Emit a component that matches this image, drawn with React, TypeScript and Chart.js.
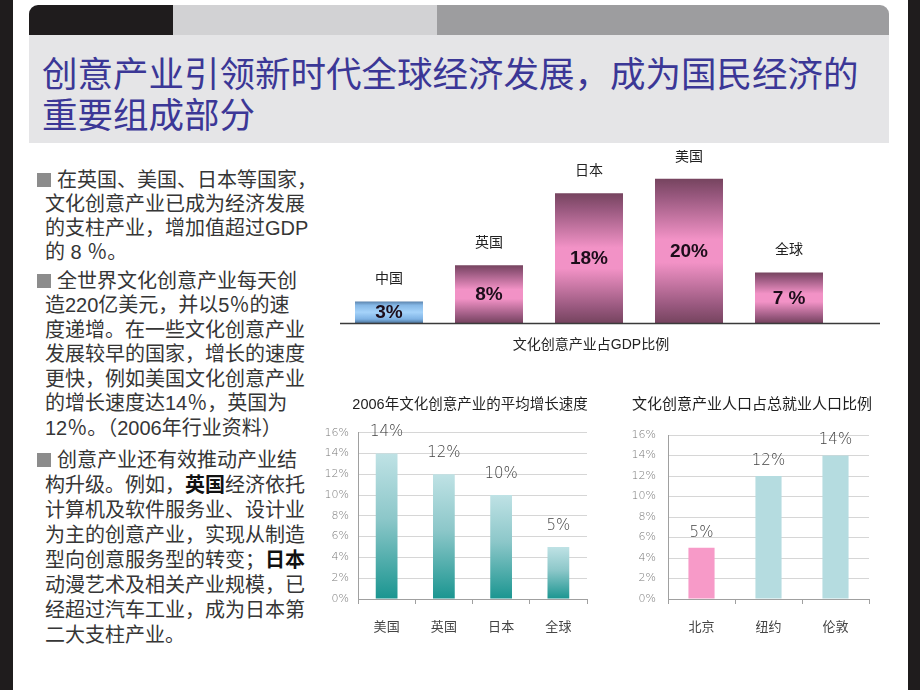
import React, { useEffect, useRef } from "react";
import { Chart, registerables } from "chart.js";
Chart.register(...registerables);

// ---------- data ----------
const gdpCategories = ["中国", "英国", "日本", "美国", "全球"];
const gdpValues = [3, 8, 18, 20, 7];
const gdpValueLabels = ["3%", "8%", "18%", "20%", "7 %"];
const gdpAxisTitle = "文化创意产业占GDP比例";

const growthCategories = ["美国", "英国", "日本", "全球"];
const growthValues = [14, 12, 10, 5];
const growthTitle = "2006年文化创意产业的平均增长速度";

const employCategories = ["北京", "纽约", "伦敦"];
const employValues = [5, 12, 14];
const employColors = ["#f79ac8", "#b5dce0", "#b5dce0"];
const employTitle = "文化创意产业人口占总就业人口比例";

const pctMin = 0;
const pctMax = 16;
const pctStep = 2;

const slideTitleLines = ["创意产业引领新时代全球经济发展，成为国民经济的", "重要组成部分"];

type Seg = { t: string; b?: boolean };
const para1: Seg[][] = [
  [{ t: "在英国、美国、日本等国家，" }],
  [{ t: "文化创意产业已成为经济发展" }],
  [{ t: "的支柱产业，增加值超过GDP" }],
  [{ t: "的 8 ％。" }],
];
const para2: Seg[][] = [
  [{ t: "全世界文化创意产业每天创" }],
  [{ t: "造220亿美元，并以5％的速" }],
  [{ t: "度递增。在一些文化创意产业" }],
  [{ t: "发展较早的国家，增长的速度" }],
  [{ t: "更快，例如美国文化创意产业" }],
  [{ t: "的增长速度达14％，英国为" }],
  [{ t: "12％。（2006年行业资料）" }],
];
const para3: Seg[][] = [
  [{ t: "创意产业还有效推动产业结" }],
  [{ t: "构升级。例如，" }, { t: "英国", b: true }, { t: "经济依托" }],
  [{ t: "计算机及软件服务业、设计业" }],
  [{ t: "为主的创意产业，实现从制造" }],
  [{ t: "型向创意服务型的转变；" }, { t: "日本", b: true }],
  [{ t: "动漫艺术及相关产业规模，已" }],
  [{ t: "经超过汽车工业，成为日本第" }],
  [{ t: "二大支柱产业。" }],
];

const CJK = '"Liberation Sans", "Noto Sans CJK SC", sans-serif';
const THIN = '"DejaVu Sans", "Noto Sans CJK SC", sans-serif';

// ---------- chart configs ----------
function gdpConfig(): any {
  const labelPlugin = {
    id: "gdpLabels",
    afterDatasetsDraw(chart: any) {
      const { ctx, chartArea } = chart;
      const meta = chart.getDatasetMeta(0);
      ctx.save();
      ctx.textAlign = "center";
      ctx.textBaseline = "middle";
      meta.data.forEach((bar: any, i: number) => {
        const { x, y, base } = bar.getProps(["x", "y", "base"], true);
        ctx.font = `14px ${CJK}`;
        ctx.fillStyle = "#222";
        ctx.fillText(gdpCategories[i], x, y - 22);
        ctx.font = 'bold 19px "Liberation Sans", Arial, sans-serif';
        ctx.fillStyle = "#1c0d1a";
        ctx.fillText(gdpValueLabels[i], x, (y + base) / 2 + 1);
      });
      ctx.strokeStyle = "#3a3a3a";
      ctx.lineWidth = 1.5;
      ctx.beginPath();
      ctx.moveTo(chartArea.left + 1, chartArea.bottom + 0.5);
      ctx.lineTo(chartArea.right + 41, chartArea.bottom + 0.5);
      ctx.stroke();
      ctx.font = `14px ${CJK}`;
      ctx.fillStyle = "#222";
      ctx.fillText(gdpAxisTitle, chartArea.left + 252, chartArea.bottom + 22);
      ctx.restore();
    },
  };
  return {
    type: "bar",
    data: {
      labels: gdpCategories,
      datasets: [
        {
          data: gdpValues,
          barPercentage: 0.68,
          categoryPercentage: 1,
          backgroundColor: (c: any) => {
            const chart = c.chart;
            if (!chart.chartArea || c.type !== "data") return "#e890c0";
            const ys = chart.scales.y;
            const top = ys.getPixelForValue(c.raw);
            const bottom = ys.getPixelForValue(0);
            const g = chart.ctx.createLinearGradient(0, top, 0, bottom);
            if (c.dataIndex === 0) {
              g.addColorStop(0, "#5a82ab");
              g.addColorStop(0.18, "#86b8e6");
              g.addColorStop(0.5, "#a5d3fa");
              g.addColorStop(0.82, "#7eb2e4");
              g.addColorStop(1, "#4d759c");
            } else {
              g.addColorStop(0, "#76445f");
              g.addColorStop(0.12, "#98587e");
              g.addColorStop(0.42, "#f292c6");
              g.addColorStop(0.58, "#f292c6");
              g.addColorStop(0.88, "#98587e");
              g.addColorStop(1, "#76445f");
            }
            return g;
          },
        },
      ],
    },
    options: {
      responsive: false,
      animation: false,
      layout: { padding: { left: 4, right: 51, top: 0, bottom: 37 } },
      plugins: { legend: { display: false }, tooltip: { enabled: false } },
      scales: {
        x: { display: false },
        y: { display: false, min: 0, max: 24 },
      },
    },
    plugins: [labelPlugin],
  };
}

function smallConfig(opts: {
  categories: string[];
  values: number[];
  colors: any;
  title: string;
  titleX: number;
  titleSize: number;
  padTop: number;
  padRight: number;
  yWidth: number;
  yPad: number;
  barPct: number;
  labelGap: number;
}): any {
  const plugin = {
    id: "smallLabels",
    afterDatasetsDraw(chart: any) {
      const { ctx } = chart;
      const meta = chart.getDatasetMeta(0);
      ctx.save();
      ctx.textAlign = "center";
      ctx.textBaseline = "middle";
      ctx.font = `200 15px ${THIN}`;
      ctx.fillStyle = "#444";
      meta.data.forEach((bar: any, i: number) => {
        const { x, y } = bar.getProps(["x", "y"], true);
        ctx.fillText(opts.values[i] + "%", x, y - opts.labelGap);
      });
      ctx.font = `${opts.titleSize}px ${CJK}`;
      ctx.fillStyle = "#1e1e1e";
      ctx.fillText(opts.title, opts.titleX, 15);
      ctx.restore();
    },
  };
  return {
    type: "bar",
    data: {
      labels: opts.categories,
      datasets: [
        {
          data: opts.values,
          barPercentage: opts.barPct,
          categoryPercentage: 1,
          backgroundColor: opts.colors,
        },
      ],
    },
    options: {
      responsive: false,
      animation: false,
      layout: { padding: { left: 0, right: opts.padRight, top: opts.padTop, bottom: 0 } },
      plugins: { legend: { display: false }, tooltip: { enabled: false } },
      scales: {
        x: {
          grid: { drawOnChartArea: false, drawTicks: true, tickLength: 5, color: "#a0a0a0" },
          border: { color: "#a0a0a0" },
          ticks: { color: "#444", font: { family: CJK, size: 13 }, padding: 16 },
          afterFit: (a: any) => {
            a.height = 40;
          },
        },
        y: {
          min: pctMin,
          max: pctMax,
          ticks: {
            stepSize: pctStep,
            color: "#777",
            font: { family: THIN, size: 11, weight: 200 },
            padding: opts.yPad,
            callback: (v: any) => v + "%",
          },
          grid: { color: "#d6d6d6", drawTicks: false },
          border: { color: "#a0a0a0" },
          afterFit: (a: any) => {
            a.width = opts.yWidth;
          },
        },
      },
    },
    plugins: [plugin],
  };
}

function growthConfig() {
  return smallConfig({
    categories: growthCategories,
    values: growthValues,
    colors: (c: any) => {
      const chart = c.chart;
      if (!chart.chartArea || c.type !== "data") return "#7bbfc0";
      const ys = chart.scales.y;
      const top = ys.getPixelForValue(c.raw);
      const bottom = ys.getPixelForValue(0);
      const g = chart.ctx.createLinearGradient(0, top, 0, bottom);
      g.addColorStop(0, "#bfe2e5");
      g.addColorStop(0.45, "#8cc7c9");
      g.addColorStop(1, "#1a9590");
      return g;
    },
    title: growthTitle,
    titleX: 152,
    titleSize: 14.5,
    padTop: 42.7,
    padRight: 35,
    yWidth: 40,
    yPad: 9,
    barPct: 0.38,
    labelGap: 21,
  });
}

function employConfig() {
  return smallConfig({
    categories: employCategories,
    values: employValues,
    colors: employColors,
    title: employTitle,
    titleX: 137,
    titleSize: 15,
    padTop: 45,
    padRight: 21,
    yWidth: 53,
    yPad: 12,
    barPct: 0.39,
    labelGap: 15,
  });
}

function ChartBox(props: { left: number; top: number; width: number; height: number; make: () => any }) {
  const ref = useRef<HTMLCanvasElement>(null);
  useEffect(() => {
    const chart = new Chart(ref.current as HTMLCanvasElement, props.make());
    return () => chart.destroy();
  }, []);
  return (
    <canvas
      ref={ref}
      width={props.width}
      height={props.height}
      style={{ position: "absolute", left: props.left, top: props.top, width: props.width, height: props.height }}
    />
  );
}

function Paragraph(props: { lines: Seg[][]; top: number; lineHeight: number }) {
  return (
    <>
      <div
        style={{
          position: "absolute",
          left: 37,
          top: props.top + props.lineHeight / 2 - 7,
          width: 14,
          height: 14,
          background: "#8c8c8c",
        }}
      />
      {props.lines.map((line, i) => (
        <div
          key={i}
          style={{
            position: "absolute",
            left: i === 0 ? 57 : 45,
            top: props.top + i * props.lineHeight,
            height: props.lineHeight,
            lineHeight: props.lineHeight + "px",
            fontSize: 20,
            whiteSpace: "nowrap",
            color: "#363636",
            fontFamily: CJK,
          }}
        >
          {line.map((s, j) => (
            <span key={j} style={{ fontWeight: s.b ? 700 : 400, color: s.b ? "#111" : undefined }}>
              {s.t}
            </span>
          ))}
        </div>
      ))}
    </>
  );
}

export default function App() {
  return (
    <div
      style={{
        position: "fixed",
        left: 0,
        top: 0,
        width: 920,
        height: 690,
        background: "#ffffff",
        overflow: "hidden",
        fontFamily: CJK,
      }}
    >
      <div style={{ position: "absolute", left: 0, top: 0, width: 13, height: 690, background: "#1f1c1d" }} />
      <div style={{ position: "absolute", left: 908, top: 0, width: 12, height: 690, background: "#1f1c1d" }} />

      <div
        style={{
          position: "absolute",
          left: 29,
          top: 5,
          width: 860,
          height: 30,
          borderRadius: "9px 9px 0 0",
          overflow: "hidden",
          display: "flex",
        }}
      >
        <div style={{ width: 144, background: "#1f1c1d" }} />
        <div style={{ width: 264, background: "#d2d2d4" }} />
        <div style={{ flex: 1, background: "#9d9d9f" }} />
      </div>
      <div style={{ position: "absolute", left: 29, top: 35, width: 860, height: 108, background: "#e5e5e7" }} />
      {slideTitleLines.map((t, i) => (
        <div
          key={i}
          style={{
            position: "absolute",
            left: 42,
            top: 51 + i * 41,
            height: 42,
            lineHeight: "42px",
            fontSize: 35.5,
            color: "#3b3796",
            whiteSpace: "nowrap",
            fontFamily: '"Noto Sans CJK SC", sans-serif',
          }}
        >
          {t}
        </div>
      ))}

      <Paragraph lines={para1} top={167.75} lineHeight={24.2} />
      <Paragraph lines={para2} top={268.75} lineHeight={24.5} />
      <Paragraph lines={para3} top={447.5} lineHeight={25} />

      <ChartBox left={335} top={150} width={555} height={210} make={gdpConfig} />
      <ChartBox left={318} top={390} width={304} height={249} make={growthConfig} />
      <ChartBox left={615} top={390} width={275} height={249} make={employConfig} />
    </div>
  );
}
